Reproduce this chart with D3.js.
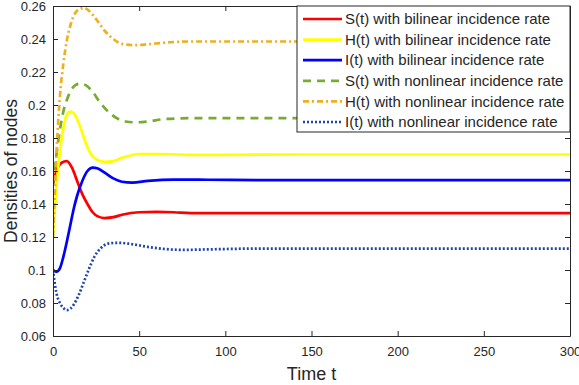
<!DOCTYPE html>
<html>
<head>
<meta charset="utf-8">
<style>
    body { margin: 0; background: #fff; }
    text { font-family: "Liberation Sans", Arial, sans-serif; fill: #262626; }
    .axis path, .axis line { stroke: #262626; }
</style>
</head>
<body>
<svg width="579" height="385"></svg>
<script src="https://d3js.org/d3.v7.min.js"></script>
<script>
// time points and series values
var tS1 = [0, 2, 5, 8, 11, 14, 17, 20, 23, 26, 30, 35, 40, 50, 60, 70, 80, 100, 150, 200, 250, 300];
var sBil = [0.152, 0.160, 0.165, 0.166, 0.162, 0.154, 0.146, 0.140, 0.135, 0.1325, 0.1315, 0.132, 0.1335, 0.135, 0.1352, 0.135, 0.1345, 0.1345, 0.1345, 0.1345, 0.1345, 0.1345];

var tH1 = [0, 2, 4, 6, 8, 10, 12, 15, 18, 21, 25, 30, 35, 40, 50, 60, 80, 100, 150, 200, 250, 300];
var hBil = [0.12, 0.15, 0.172, 0.186, 0.194, 0.196, 0.195, 0.189, 0.180, 0.172, 0.167, 0.1655, 0.166, 0.168, 0.1703, 0.1703, 0.1698, 0.1698, 0.17, 0.17, 0.17, 0.17];

var tI1 = [0, 2, 4, 6, 8, 10, 12, 14, 17, 20, 23, 26, 30, 35, 40, 46, 55, 70, 90, 120, 200, 300];
var iBil = [0.100, 0.099, 0.101, 0.108, 0.117, 0.127, 0.137, 0.145, 0.154, 0.160, 0.162, 0.1615, 0.159, 0.1555, 0.1535, 0.153, 0.154, 0.1548, 0.1547, 0.1545, 0.1545, 0.1545];

var tS2 = [0, 2, 4, 6, 8, 10, 13, 16, 19, 23, 27, 32, 37, 42, 48, 55, 65, 80, 100, 200, 300];
var sNon = [0.152, 0.17, 0.185, 0.196, 0.203, 0.208, 0.212, 0.213, 0.212, 0.208, 0.202, 0.196, 0.192, 0.190, 0.1895, 0.190, 0.1915, 0.192, 0.192, 0.192, 0.192];

var tH2 = [0, 1, 2, 3, 4, 6, 8, 10, 12, 15, 18, 21, 25, 30, 35, 40, 48, 55, 65, 80, 100, 200, 300];
var hNon = [0.12, 0.145, 0.17, 0.19, 0.205, 0.225, 0.239, 0.248, 0.254, 0.258, 0.2588, 0.257, 0.252, 0.245, 0.240, 0.237, 0.2363, 0.2368, 0.2378, 0.2385, 0.2385, 0.2385, 0.2385];

var tI2 = [0, 1, 2, 4, 6, 8, 10, 12, 15, 18, 21, 24, 28, 32, 38, 45, 55, 65, 75, 90, 120, 200, 300];
var iNon = [0.100, 0.092, 0.086, 0.080, 0.077, 0.0757, 0.0765, 0.079, 0.085, 0.093, 0.101, 0.108, 0.1135, 0.116, 0.1165, 0.1158, 0.114, 0.1127, 0.1122, 0.1125, 0.113, 0.113, 0.113];

var xTicks = [0, 50, 100, 150, 200, 250, 300];
var yTicks = [0.06, 0.08, 0.1, 0.12, 0.14, 0.16, 0.18, 0.2, 0.22, 0.24, 0.26];

var series = [
    { name: "S(t) with bilinear incidence rate", t: tS1, v: sBil, color: "#ff0000", dash: null },
    { name: "H(t) with bilinear incidence rate", t: tH1, v: hBil, color: "#ffff00", dash: null },
    { name: "I(t) with bilinear incidence rate", t: tI1, v: iBil, color: "#0000ff", dash: null },
    { name: "S(t) with nonlinear incidence rate", t: tS2, v: sNon, color: "#77ac30", dash: "8,6" },
    { name: "H(t) with nonlinear incidence rate", t: tH2, v: hNon, color: "#edb120", dash: "6,3,2,3" },
    { name: "I(t) with nonlinear incidence rate", t: tI2, v: iNon, color: "#1f45a8", dash: "2,2" }
];

var svg = d3.select("svg"),
    margin = { top: 6, right: 9, bottom: 49, left: 53 },
    width = +svg.attr("width") - margin.left - margin.right,
    height = +svg.attr("height") - margin.top - margin.bottom,
    g = svg.append("g").attr("transform", "translate(" + margin.left + "," + margin.top + ")");

var x = d3.scaleLinear().domain([0, 300]).range([0, width]);
var y = d3.scaleLinear().domain([0.06, 0.26]).range([height, 0]);

var line = d3.line()
    .x(function (d) { return x(d[0]); })
    .y(function (d) { return y(d[1]); })
    .curve(d3.curveMonotoneX);

g.append("defs").append("clipPath")
    .attr("id", "clip")
    .append("rect")
    .attr("width", width)
    .attr("height", height);

var plot = g.append("g").attr("clip-path", "url(#clip)");
series.forEach(function (s) {
    plot.append("path")
        .datum(d3.zip(s.t, s.v))
        .attr("fill", "none")
        .attr("stroke", s.color)
        .attr("stroke-width", 2.7)
        .attr("stroke-dasharray", s.dash)
        .attr("d", line);
});

// axes (box with inward ticks)
g.append("g")
    .attr("class", "axis")
    .attr("transform", "translate(0," + height + ")")
    .call(d3.axisBottom(x).tickValues(xTicks).tickSizeInner(-5).tickSizeOuter(0).tickPadding(11))
    .call(function (a) { a.selectAll("text").attr("font-size", 13); });

g.append("g")
    .attr("class", "axis")
    .call(d3.axisLeft(y).tickValues(yTicks).tickFormat(d3.format("~g")).tickSizeInner(-5).tickSizeOuter(0).tickPadding(7))
    .call(function (a) { a.selectAll("text").attr("font-size", 13); });

g.append("g")
    .attr("class", "axis")
    .call(d3.axisTop(x).tickValues(xTicks).tickSizeInner(-5).tickSizeOuter(0).tickFormat(""));

g.append("g")
    .attr("class", "axis")
    .attr("transform", "translate(" + width + ",0)")
    .call(d3.axisRight(y).tickValues(yTicks).tickSizeInner(-5).tickSizeOuter(0).tickFormat(""));

g.selectAll(".axis").attr("font-family", null);

// axis titles
svg.append("text")
    .attr("x", margin.left + width / 2)
    .attr("y", 380)
    .attr("text-anchor", "middle")
    .attr("font-size", 18)
    .text("Time t");

svg.append("text")
    .attr("transform", "translate(17," + (margin.top + height / 2) + ") rotate(-90)")
    .attr("text-anchor", "middle")
    .attr("font-size", 17.5)
    .text("Densities of nodes");

// legend
var lx = 297 - margin.left, ly = 0, lw = width - lx, lh = 126;
var legend = g.append("g").attr("transform", "translate(" + lx + "," + ly + ")");
legend.append("rect")
    .attr("width", lw)
    .attr("height", lh)
    .attr("fill", "#fff")
    .attr("stroke", "#262626")
    .attr("stroke-width", 1);

series.forEach(function (s, i) {
    var yy = 13 + i * 20.6;
    legend.append("line")
        .attr("x1", 6).attr("x2", 45)
        .attr("y1", yy).attr("y2", yy)
        .attr("stroke", s.color)
        .attr("stroke-width", 2.7)
        .attr("stroke-dasharray", s.dash);
    legend.append("text")
        .attr("x", 48)
        .attr("y", yy)
        .attr("dy", "0.35em")
        .attr("font-size", 15)
        .text(s.name);
});
</script>
</body>
</html>
